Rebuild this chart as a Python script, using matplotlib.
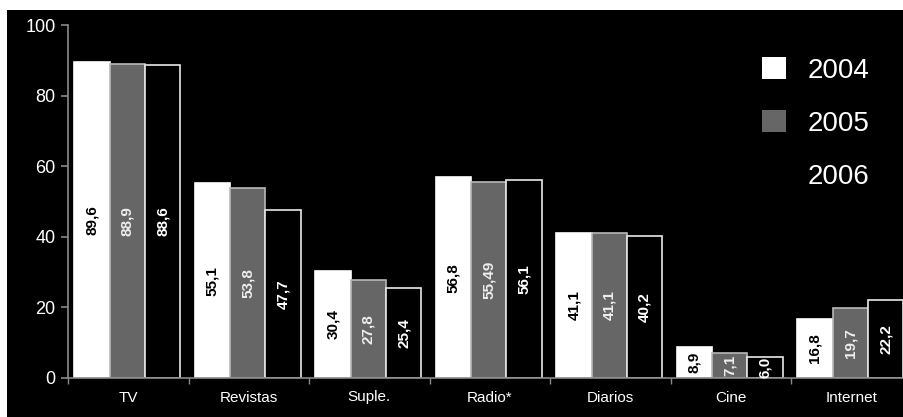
import numpy as np
import matplotlib
matplotlib.use("Agg")
import matplotlib.pyplot as plt
import matplotlib.patches as mpatches

# ── data ──────────────────────────────────────────────────────────────────────
categories = ["TV", "Revistas", "Suple.", "Radio*", "Diarios", "Cine", "Internet"]
years = ["2004", "2005", "2006"]
v2004 = [89.6, 55.1, 30.4, 56.8, 41.1, 8.9, 16.8]
v2005 = [88.9, 53.8, 27.8, 55.49, 41.1, 7.1, 19.7]
v2006 = [88.6, 47.7, 25.4, 56.1, 40.2, 6.0, 22.2]
yticks = [0, 20, 40, 60, 80, 100]

# ── styles ────────────────────────────────────────────────────────────────────
FONT = ["Liberation Sans", "DejaVu Sans"]
plt.rcParams["font.family"] = FONT
C_AXIS = "#8a8a8a"
series = [
    (v2004, "white", "white", "black"),
    (v2005, "#666666", "#b8b8b8", "#eeeeee"),
    (v2006, "black", "#e8e8e8", "white"),
]

fig = plt.figure(figsize=(9.04, 4.17), dpi=100)
fig.patch.set_facecolor("white")
# black panel (white margin top and left)
fig.patches.append(mpatches.Rectangle((7 / 904, 0), 1, 1 - 10 / 417,
                                      transform=fig.transFigure,
                                      facecolor="black", edgecolor="none",
                                      zorder=-10))

ax = fig.add_axes([68 / 904, 39 / 417, 843.5 / 904, 353 / 417])
ax.set_facecolor("none")

x = np.arange(len(categories))
w = 0.293
shift = -1 / 120.5
offsets = [-w, 0, w]
for (vals, fc, ec, tc), off in zip(series, offsets):
    ax.bar(x + off + shift, vals, width=w, color=fc,
           edgecolor=ec, linewidth=1.2, zorder=2)
    for xi, v in zip(x, vals):
        ax.text(xi + off + shift, v / 2, f"{v}".replace(".", ","),
                rotation=90, ha="center", va="center", fontsize=11,
                fontweight="bold", color=tc, zorder=3)

ax.set_xlim(-0.5, len(categories) - 0.5)
ax.set_ylim(0, 100)
ax.set_yticks(yticks)
ax.set_xticks(x)
ax.set_xticklabels(categories)
ax.set_xticks(np.arange(len(categories) + 1) - 0.5, minor=True)

for side in ["top", "right"]:
    ax.spines[side].set_visible(False)
for side in ["left", "bottom"]:
    ax.spines[side].set_color(C_AXIS)
    ax.spines[side].set_linewidth(1.2)

ax.tick_params(axis="y", colors=C_AXIS, labelcolor="white", labelsize=13,
               length=5, width=1.2, pad=4)
ax.tick_params(axis="x", which="major", length=0, labelcolor="white",
               labelsize=11, pad=9)
ax.tick_params(axis="x", which="minor", colors=C_AXIS, length=4, width=1.0)

# ── legend ────────────────────────────────────────────────────────────────────
handles = [mpatches.Patch(facecolor=fc, edgecolor="none", label=yr)
           for (vals, fc, ec, tc), yr in zip(series, years)]
ax.legend(handles=handles, loc="upper left",
          bbox_to_anchor=(737 / 904, 1 - 32 / 417),
          bbox_transform=fig.transFigure,
          frameon=False, fontsize=20, labelcolor="white",
          handlelength=0.85, handleheight=0.85, handletextpad=0.8,
          labelspacing=0.95)

fig.savefig("out.png", dpi=100, facecolor="white")
